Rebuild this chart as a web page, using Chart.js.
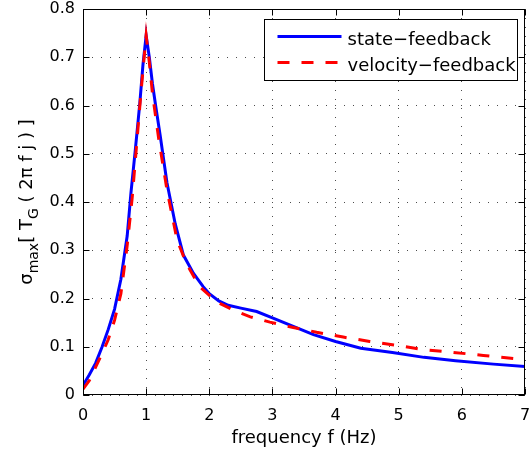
<!DOCTYPE html>
<html>
<head>
<meta charset="utf-8">
<script src="https://cdn.jsdelivr.net/npm/chart.js@4/dist/chart.umd.min.js"></script>
<style>
html,body{margin:0;padding:0;background:#fff;}
canvas{display:block;}
</style>
</head>
<body>
<canvas id="c" width="532" height="459"></canvas>
<script>
// ---- data ----
const stateFreq = [0, 0.1, 0.2, 0.3, 0.4, 0.5, 0.6, 0.7, 0.76, 0.83, 0.9, 0.95, 1.0, 1.05, 1.1, 1.15, 1.22, 1.33, 1.46, 1.59, 1.75, 1.9, 2.0, 2.15, 2.3, 2.5, 2.75, 3.0, 3.33, 3.65, 4.0, 4.4, 4.9, 5.4, 5.9, 6.5, 7.0];
const stateVals = [0.02, 0.042, 0.066, 0.099, 0.136, 0.178, 0.24, 0.33, 0.42, 0.51, 0.605, 0.685, 0.745, 0.70, 0.645, 0.60, 0.54, 0.44, 0.355, 0.29, 0.252, 0.225, 0.21, 0.195, 0.186, 0.180, 0.173, 0.16, 0.142, 0.125, 0.111, 0.097, 0.088, 0.078, 0.071, 0.064, 0.059];
const velFreq = [0, 0.1, 0.2, 0.3, 0.4, 0.5, 0.6, 0.7, 0.78, 0.85, 0.92, 1.0, 1.05, 1.1, 1.2, 1.33, 1.49, 1.64, 1.85, 2.12, 2.38, 2.65, 2.96, 3.33, 3.7, 4.12, 4.54, 4.97, 5.39, 5.81, 6.34, 7.0];
const velVals = [0.012, 0.03, 0.058, 0.085, 0.115, 0.155, 0.21, 0.31, 0.41, 0.52, 0.63, 0.745, 0.69, 0.625, 0.53, 0.425, 0.321, 0.272, 0.224, 0.193, 0.176, 0.162, 0.151, 0.14, 0.13, 0.12, 0.111, 0.103, 0.094, 0.089, 0.082, 0.073];
const seriesNames = ['state\u2212feedback', 'velocity\u2212feedback'];
const xTickLabels = ['0', '1', '2', '3', '4', '5', '6', '7'];
const yTickLabels = ['0', '0.1', '0.2', '0.3', '0.4', '0.5', '0.6', '0.7', '0.8'];
const xTitle = 'frequency f (Hz)';
const yTitleParts = [['\u03c3', 0], ['max', 1], ['[ T', 0], ['G', 1], [' ( 2\u03c0 f j ) ]', 0]];

const FONT = '"DejaVu Sans", sans-serif';

const toPts = (xs, ys) => xs.map((f, i) => ({x: f, y: ys[i]}));

const overlay = {
  id: 'overlay',
  afterDraw(chart) {
    const {ctx, chartArea: a, scales: {x, y}} = chart;
    ctx.save();
    // box
    const L = Math.round(a.left) + 0.5, T = Math.round(a.top) + 0.5;
    const R = Math.round(a.right) - 0.5, B = Math.round(a.bottom) - 0.5;
    ctx.strokeStyle = '#000';
    ctx.lineWidth = 1;
    ctx.setLineDash([]);
    ctx.strokeRect(L, T, R - L, B - T);
    // inward ticks on all sides
    const TL = 6;
    ctx.beginPath();
    x.ticks.forEach(t => {
      const px = Math.round(x.getPixelForValue(t.value)) + 0.5;
      ctx.moveTo(px, B); ctx.lineTo(px, B - TL);
      ctx.moveTo(px, T); ctx.lineTo(px, T + TL);
    });
    y.ticks.forEach(t => {
      const py = Math.round(y.getPixelForValue(t.value)) + 0.5;
      ctx.moveTo(L, py); ctx.lineTo(L + TL, py);
      ctx.moveTo(R, py); ctx.lineTo(R - TL, py);
    });
    ctx.stroke();

    // legend box
    const lw = 253, lh = 61;
    const lx = Math.round(a.right - 8 - lw) + 0.5, ly = Math.round(a.top + 10) + 0.5;
    ctx.fillStyle = '#fff';
    ctx.fillRect(lx, ly, lw, lh);
    ctx.strokeStyle = '#000';
    ctx.lineWidth = 1;
    ctx.strokeRect(lx, ly, lw, lh);
    const order = [1, 0];
    const rows = [17, 43];
    order.forEach((di, r) => {
      const ds = chart.data.datasets[di];
      const yy = ly + rows[r];
      ctx.save();
      ctx.strokeStyle = ds.borderColor;
      ctx.lineWidth = ds.borderWidth;
      ctx.setLineDash(ds.borderDash || []);
      ctx.beginPath();
      ctx.moveTo(lx + 13, yy);
      ctx.lineTo(lx + 77, yy);
      ctx.stroke();
      ctx.restore();
      ctx.fillStyle = '#000';
      ctx.font = '18px ' + FONT;
      ctx.textBaseline = 'alphabetic';
      ctx.textAlign = 'left';
      ctx.fillText(ds.label, lx + 83, yy + 8);
    });

    // y-axis title with subscripts
    const mainF = '18px ' + FONT, subF = '14px ' + FONT;
    let total = 0;
    yTitleParts.forEach(([s, sub]) => { ctx.font = sub ? subF : mainF; total += ctx.measureText(s).width; });
    ctx.translate(32, (a.top + a.bottom) / 2);
    ctx.rotate(-Math.PI / 2);
    ctx.fillStyle = '#000';
    ctx.textAlign = 'left';
    ctx.textBaseline = 'alphabetic';
    let cx = -total / 2;
    yTitleParts.forEach(([s, sub]) => {
      ctx.font = sub ? subF : mainF;
      ctx.fillText(s, cx, sub ? 6 : 0);
      cx += ctx.measureText(s).width;
    });
    ctx.restore();
  }
};

const noPad = s => { s.paddingTop = 0; s.paddingBottom = 0; s.paddingLeft = 0; s.paddingRight = 0; };

new Chart(document.getElementById('c'), {
  type: 'line',
  data: {
    datasets: [
      {
        label: seriesNames[1],
        data: toPts(velFreq, velVals),
        borderColor: '#ff0000',
        borderWidth: 3,
        borderDash: [12, 12],
        pointRadius: 0,
        tension: 0,
        fill: false
      },
      {
        label: seriesNames[0],
        data: toPts(stateFreq, stateVals),
        borderColor: '#0000ff',
        borderWidth: 3,
        pointRadius: 0,
        tension: 0,
        fill: false
      }
    ]
  },
  options: {
    responsive: false,
    animation: false,
    layout: {padding: {top: 9, right: 7, left: 0, bottom: 0}},
    plugins: {legend: {display: false}, tooltip: {enabled: false}},
    scales: {
      x: {
        type: 'linear',
        min: 0, max: 7,
        afterFit: s => { s.height = 64; noPad(s); },
        ticks: {
          stepSize: 1,
          padding: 11,
          color: '#000',
          font: {family: FONT, size: 16},
          callback: (v, i) => xTickLabels[i]
        },
        grid: {color: 'rgba(0,0,0,0.7)', lineWidth: 1, drawTicks: false},
        border: {display: false, dash: [1, 8]},
        title: {display: true, text: xTitle, color: '#000', font: {family: FONT, size: 18}, padding: {top: 0, bottom: 10}}
      },
      y: {
        type: 'linear',
        min: 0, max: 0.8,
        afterFit: s => { s.width = 83; noPad(s); },
        ticks: {
          stepSize: 0.1,
          padding: 8,
          color: '#000',
          font: {family: FONT, size: 16},
          callback: (v, i) => yTickLabels[i]
        },
        grid: {color: 'rgba(0,0,0,0.7)', lineWidth: 1, drawTicks: false},
        border: {display: false, dash: [1, 8]}
      }
    }
  },
  plugins: [overlay]
});
</script>
</body>
</html>
